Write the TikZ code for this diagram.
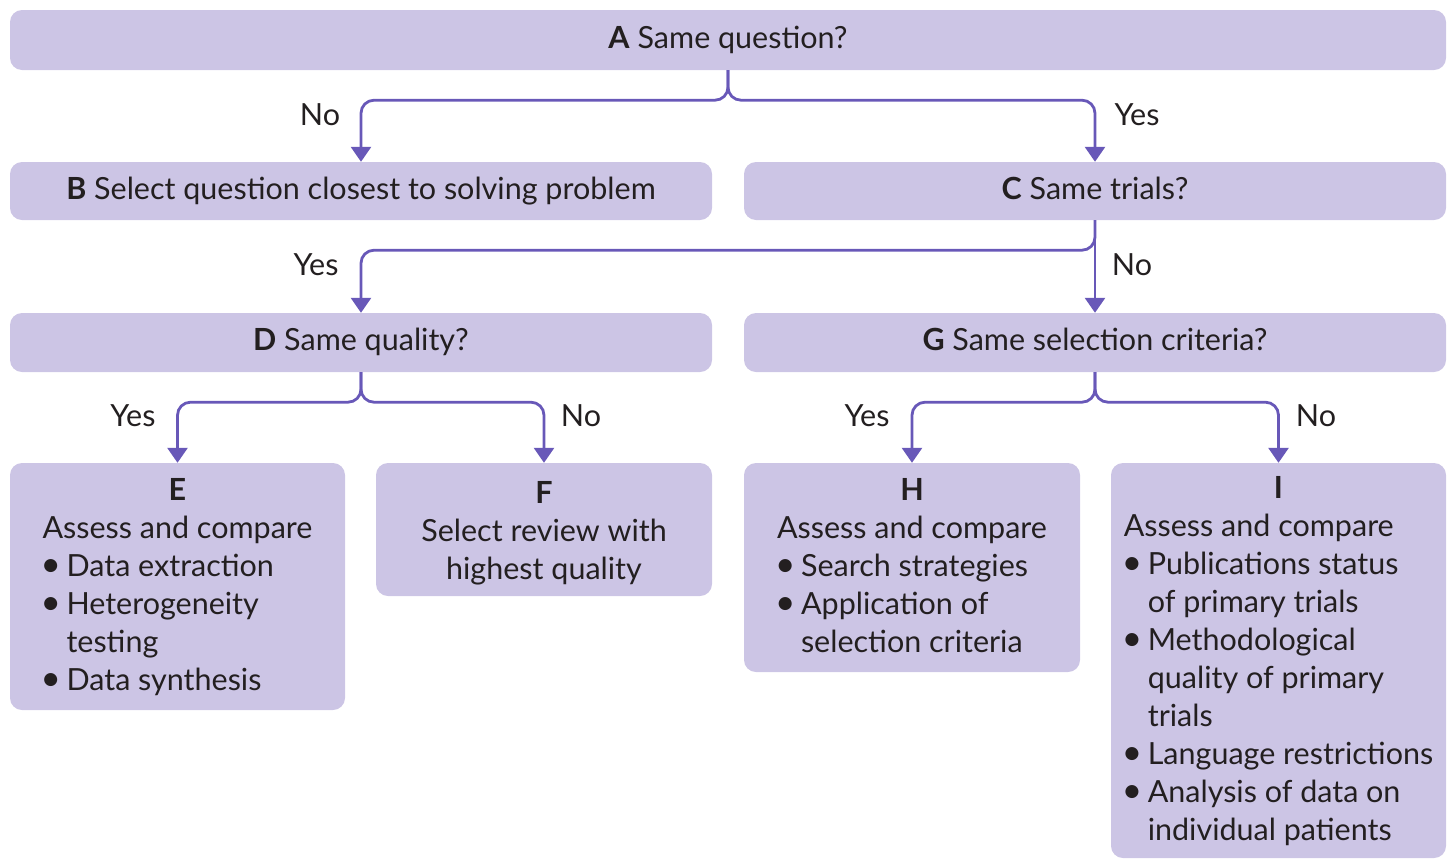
\documentclass[tikz,border=0pt]{standalone}
\usepackage{fontspec}
\usepackage{graphicx}
\setmainfont{Lato}
\usetikzlibrary{arrows.meta}
\definecolor{boxfill}{RGB}{204,197,229}
\definecolor{linkcol}{RGB}{104,88,184}
\definecolor{ink}{RGB}{35,31,32}
% bullet item and its continuation line
\newcommand{\itm}[1]{\makebox[24pt][l]{\hspace{-2pt}\raisebox{-0.5pt}{\scalebox{1.15}{•}}}#1}
\newcommand{\cont}[1]{\hspace*{24pt}#1}
% heading letter of an outcome box, with a little extra room above
\newcommand{\hd}[1]{\rule{0pt}{29pt}\textbf{#1}}
\begin{document}
\begin{tikzpicture}[x=1pt,y=-1pt,
  box/.style={rectangle, rounded corners=12pt, fill=boxfill, inner sep=0pt,
    text=ink, align=center, font=\fontsize{30.5}{38}\selectfont},
  single/.style={box, text height=22pt, text depth=6pt},
  conn/.style={draw=linkcol, line width=2.8pt, rounded corners=13pt,
    -{Triangle[width=20pt,length=15pt]}},
  lab/.style={inner sep=0pt, text=ink, font=\fontsize{30.5}{38}\selectfont}]
\useasboundingbox (0,0) rectangle (1451,860);

% decision boxes
\node[single, minimum width=1436pt, minimum height=60pt] (A) at (728,40) {\textbf{A} Same question?};
\node[single, minimum width=702pt, minimum height=58pt] (B) at (361,191) {\textbf{B} Select question closest to solving problem};
\node[single, minimum width=702pt, minimum height=58pt] (C) at (1095,191) {\textbf{C} Same trials?};
\node[single, minimum width=702pt, minimum height=59pt] (D) at (361,342.5) {\textbf{D} Same quality?};
\node[single, minimum width=702pt, minimum height=59pt] (G) at (1095,342.5) {\textbf{G} Same selection criteria?};

% outcome boxes
\node[box, minimum width=335pt, minimum height=247pt] (E) at (177.5,586.5) {\hd{E}\\
  \begin{tabular}[t]{@{}l@{}}Assess and compare\\ \itm{Data extraction}\\ \itm{Heterogeneity}\\ \cont{testing}\\ \itm{Data synthesis}\end{tabular}};
\node[box, minimum width=336pt, minimum height=133pt] (F) at (544,529.5) {\hd{F}\\ Select review with\\ highest quality};
\node[box, minimum width=336pt, minimum height=209pt] (H) at (912,567.5) {\hd{H}\\
  \begin{tabular}[t]{@{}l@{}}Assess and compare\\ \itm{Search strategies}\\ \itm{Application of}\\ \cont{selection criteria}\end{tabular}};
\node[box, minimum width=335pt, minimum height=395pt] (I) at (1278.5,660.5) {\hd{I}\\
  \begin{tabular}[t]{@{}l@{}}Assess and compare\\ \itm{Publications status}\\ \cont{of primary trials}\\ \itm{Methodological}\\ \cont{quality of primary}\\ \cont{trials}\\ \itm{Language restrictions}\\ \itm{Analysis of data on}\\ \cont{individual patients}\end{tabular}};

% connectors
\draw[conn] (A.south) -- ++(0,30) -| (B.north);
\draw[conn] (A.south) -- ++(0,30) -| (C.north);
\draw[conn] (C.south) -- (G.north);
\draw[conn] (C.south) -- ++(0,30) -| (D.north);
\draw[conn] (D.south) -- ++(0,30) -| (E.north);
\draw[conn] (D.south) -- ++(0,30) -| (F.north);
\draw[conn] (G.south) -- ++(0,30) -| (H.north);
\draw[conn] (G.south) -- ++(0,30) -| (I.north);

% branch labels
\node[lab] (l1) at (320,115) {No};
\node[lab] (l2) at (1137,115) {Yes};
\node[lab] (l3) at (316,265) {Yes};
\node[lab] (l4) at (1132,265) {No};
\node[lab] (l5) at (133,416) {Yes};
\node[lab] (l6) at (581,416) {No};
\node[lab] (l7) at (867,416) {Yes};
\node[lab] (l8) at (1316,416) {No};
\end{tikzpicture}
\end{document}
